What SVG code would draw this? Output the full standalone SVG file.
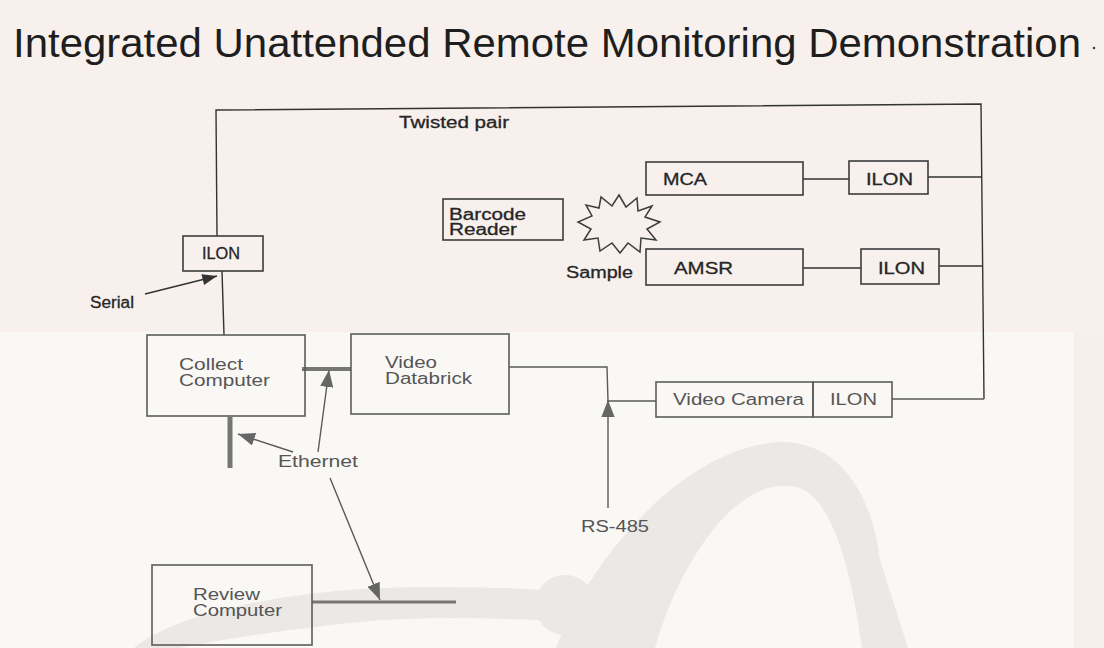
<svg xmlns="http://www.w3.org/2000/svg" width="1104" height="648" viewBox="0 0 1104 648">
  <defs>
    <style>
      .box { fill: none; stroke: #3c3c3c; stroke-width: 1.6; }
      .boxl { fill: none; stroke: #5c5c5c; stroke-width: 1.6; }
      .wire { fill: none; stroke: #333; stroke-width: 1.4; }
      .wirel { fill: none; stroke: #5a5a5a; stroke-width: 1.4; }
      .bus { fill: none; stroke: #767676; }
      .lbl { font-family: "Liberation Sans", Arial, sans-serif; font-size: 16px; fill: #262626; stroke: #262626; stroke-width: 0.3; }
      .lbll { font-family: "Liberation Sans", Arial, sans-serif; font-size: 16px; fill: #555; }
      .title { font-family: "Liberation Sans", Arial, sans-serif; font-size: 40px; fill: #1e1e1e; }
      .wm { fill: #ebe8e5; }
    </style>
    <marker id="headDark" viewBox="0 0 16 12" refX="16" refY="6" markerWidth="16" markerHeight="11" markerUnits="userSpaceOnUse" orient="auto">
      <path d="M0,0 L16,6 L0,12 Z" fill="#333"/>
    </marker>
    <marker id="headGray" viewBox="0 0 18 14" refX="18" refY="7" markerWidth="17" markerHeight="14" markerUnits="userSpaceOnUse" orient="auto">
      <path d="M0,0 L18,7 L0,14 Z" fill="#666"/>
    </marker>
  </defs>

  <!-- paper -->
  <rect x="0" y="0" width="1104" height="648" fill="#faf8f5"/>
  <rect x="0" y="0" width="1104" height="332" fill="#f7f0ec"/>
  <rect x="1074" y="332" width="30" height="316" fill="#f6efeb"/>

  <!-- faint logo watermark -->
  <g id="watermark">
    <path class="wm" d="M556,648 C590,560 680,450 778,442 C830,440 870,480 880,560 L908,648 L862,648 C850,560 830,500 800,488 C740,470 680,560 655,648 Z"/>
    <circle class="wm" cx="565" cy="605" r="30"/>
    <path class="wm" d="M134,648 C180,610 300,588 420,587 C470,587 520,588 540,590 L540,620 C480,618 420,616 360,622 C280,630 220,640 180,648 Z"/>
  </g>

  <!-- title -->
  <text class="title" x="13" y="57" textLength="1068" lengthAdjust="spacingAndGlyphs">Integrated Unattended Remote Monitoring Demonstration</text>
  <circle cx="1094" cy="48" r="1.3" fill="#444"/>

  <!-- connectors -->
  <g id="connectors">
    <!-- twisted pair loop -->
    <polyline class="wire" points="217,236 216,110 981,104 984,399"/>
    <line class="wire" x1="803" y1="179" x2="849" y2="179"/>
    <line class="wire" x1="928" y1="177" x2="981" y2="177"/>
    <line class="wire" x1="803" y1="268" x2="861" y2="268"/>
    <line class="wire" x1="939" y1="266" x2="982" y2="266"/>
    <line class="wirel" x1="892" y1="399" x2="984" y2="399"/>
    <!-- ILON to collect computer -->
    <line class="wire" x1="222" y1="271" x2="224" y2="335"/>
    <!-- databrick to camera -->
    <polyline class="wirel" points="509,367 607,367 608,401 656,401"/>
    <!-- ethernet segments -->
    <line class="bus" x1="302" y1="369" x2="351" y2="369" stroke-width="4"/>
    <line class="bus" x1="230" y1="417" x2="230" y2="468" stroke-width="5"/>
    <line class="bus" x1="312" y1="602" x2="456" y2="602" stroke-width="3"/>
    <!-- callout arrows -->
    <line class="wire" x1="145" y1="294" x2="217" y2="276" marker-end="url(#headDark)"/>
    <line class="wirel" x1="318" y1="452" x2="329" y2="370" marker-end="url(#headGray)"/>
    <line class="wirel" x1="293" y1="452" x2="238" y2="434" marker-end="url(#headGray)"/>
    <line class="wirel" x1="330" y1="478" x2="380" y2="600" marker-end="url(#headGray)"/>
    <line class="wirel" x1="608" y1="508" x2="608" y2="400" marker-end="url(#headGray)"/>
  </g>

  <!-- free labels -->
  <text class="lbl" x="399" y="128" textLength="110" lengthAdjust="spacingAndGlyphs">Twisted pair</text>
  <text class="lbl" x="90" y="308" textLength="44" lengthAdjust="spacingAndGlyphs">Serial</text>
  <text class="lbl" x="566" y="278" textLength="67" lengthAdjust="spacingAndGlyphs">Sample</text>
  <text class="lbll" x="278" y="467" textLength="80" lengthAdjust="spacingAndGlyphs">Ethernet</text>
  <text class="lbll" x="581" y="532" textLength="68" lengthAdjust="spacingAndGlyphs">RS-485</text>

  <g id="ilon-collect">
    <rect class="box" x="183" y="236" width="80" height="35"/>
    <text class="lbl" x="202" y="259" textLength="38" lengthAdjust="spacingAndGlyphs">ILON</text>
  </g>

  <g id="barcode-reader">
    <rect class="box" x="443" y="199" width="120" height="41"/>
    <text class="lbl" x="449" y="220" textLength="77" lengthAdjust="spacingAndGlyphs">Barcode</text>
    <text class="lbl" x="449" y="235" textLength="68" lengthAdjust="spacingAndGlyphs">Reader</text>
  </g>

  <g id="sample">
    <polygon fill="none" stroke="#3c3c3c" stroke-width="1.5" points="619,195 626,207 637,198 638,211 652,206 645,217 660,222 647,229 656,240 641,238 640,252 628,243 620,253 612,243 600,251 598,238 584,240 591,229 578,222 592,216 586,205 599,208 601,197 612,206"/>
  </g>

  <g id="mca">
    <rect class="box" x="646" y="162" width="157" height="33"/>
    <text class="lbl" x="663" y="185" textLength="44" lengthAdjust="spacingAndGlyphs">MCA</text>
  </g>
  <g id="ilon-mca">
    <rect class="box" x="849" y="161" width="79" height="33"/>
    <text class="lbl" x="866" y="185" textLength="47" lengthAdjust="spacingAndGlyphs">ILON</text>
  </g>

  <g id="amsr">
    <rect class="box" x="646" y="249" width="157" height="36"/>
    <text class="lbl" x="674" y="274" textLength="59" lengthAdjust="spacingAndGlyphs">AMSR</text>
  </g>
  <g id="ilon-amsr">
    <rect class="box" x="861" y="249" width="78" height="35"/>
    <text class="lbl" x="878" y="274" textLength="47" lengthAdjust="spacingAndGlyphs">ILON</text>
  </g>

  <g id="collect-computer">
    <rect class="boxl" x="147" y="335" width="158" height="81"/>
    <text class="lbll" x="179" y="370" textLength="64" lengthAdjust="spacingAndGlyphs">Collect</text>
    <text class="lbll" x="179" y="386" textLength="91" lengthAdjust="spacingAndGlyphs">Computer</text>
  </g>

  <g id="video-databrick">
    <rect class="boxl" x="351" y="334" width="158" height="80"/>
    <text class="lbll" x="385" y="368" textLength="52" lengthAdjust="spacingAndGlyphs">Video</text>
    <text class="lbll" x="385" y="384" textLength="87" lengthAdjust="spacingAndGlyphs">Databrick</text>
  </g>

  <g id="video-camera">
    <rect class="boxl" x="656" y="382" width="157" height="35"/>
    <text class="lbll" x="673" y="405" textLength="131" lengthAdjust="spacingAndGlyphs">Video Camera</text>
  </g>
  <g id="ilon-camera">
    <rect class="boxl" x="813" y="382" width="79" height="35"/>
    <text class="lbll" x="830" y="405" textLength="47" lengthAdjust="spacingAndGlyphs">ILON</text>
  </g>

  <g id="review-computer">
    <rect class="boxl" x="152" y="565" width="160" height="80"/>
    <text class="lbll" x="193" y="600" textLength="67" lengthAdjust="spacingAndGlyphs">Review</text>
    <text class="lbll" x="193" y="616" textLength="89" lengthAdjust="spacingAndGlyphs">Computer</text>
  </g>
</svg>
